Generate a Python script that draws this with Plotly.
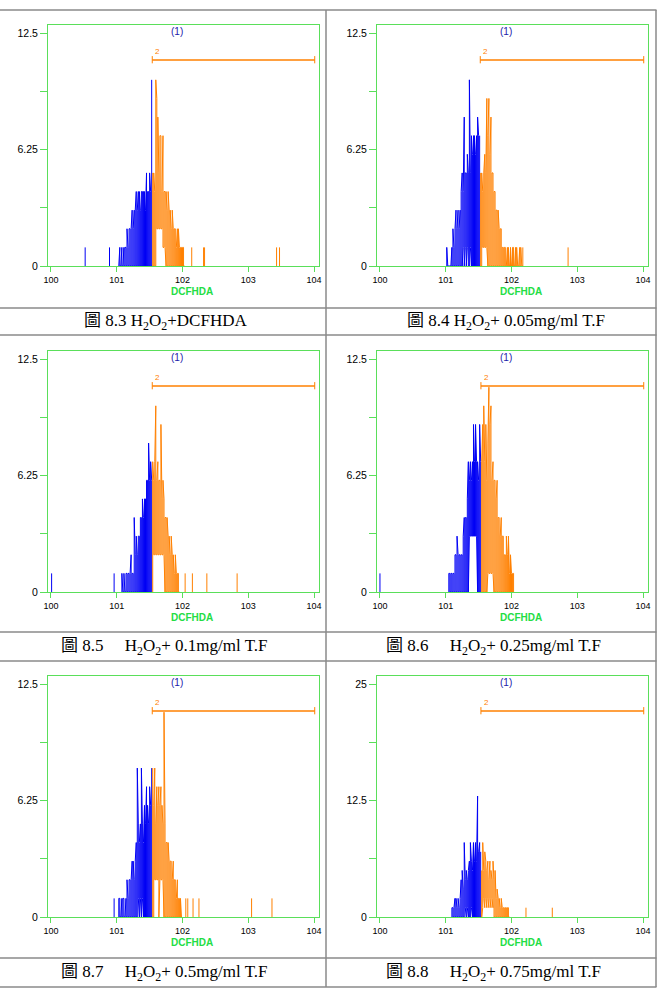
import plotly.graph_objects as go

# ---------------- data (histogram counts per 1/64-decade channel group) ----------------
BIN = 1.0 / 64

# Fig 8.3  H2O2 + DCFHDA
p83_first = 66
p83_hi = [0, 1, 0, 1, 0, 1, 1, 1, 2, 1, 2, 2, 2, 3, 2, 3, 3, 4, 3, 4,
          4, 3, 4, 4, 4, 4, 3, 5, 4, 4, 5, 4, 10,
          5, 5, 4, 10, 9, 8, 5, 7, 7, 4, 7, 4, 4, 4, 3, 4, 3, 3, 2, 3,
          2, 2, 2, 1, 2, 2, 1, 1, 1, 1, 1, 0]
p83_lo = [0, 0, 0, 0, 0, 0, 0, 0, 0, 0, 0, 0, 0, 0, 0, 0, 0, 0, 0, 0,
          0, 0, 0, 0, 0, 0, 0, 0, 0, 0, 0, 0, 0,
          0, 0, 0, 0, 2, 2, 2, 2, 2, 2, 1, 1, 1, 0, 0, 0, 0, 0, 0, 0,
          0, 0, 0, 0, 0, 0, 0, 0, 0, 0, 0, 0]
p83_gate = 1.54
p83_out_x = [0.52, 0.89, 2.14, 2.32, 2.335, 3.43, 3.475]
p83_out_n = [1, 1, 1, 1, 1, 1, 1]

# Fig 8.4  H2O2 + 0.05 mg/ml T.F
p84_first = 65
p84_hi = [1, 0, 0, 0, 0, 1, 2, 1, 2, 3, 2, 3, 2, 3, 4, 5, 4, 8, 5, 5,
          6, 5, 10, 5, 7, 6, 7, 7, 6, 7, 8, 7, 7,
          5, 5, 4, 5, 6, 5, 9, 7, 9, 6, 8, 5, 5, 4, 4, 3, 3, 3, 2, 2,
          2, 1, 1, 1, 1, 0, 1, 1, 0, 1, 0, 1, 1, 0, 1, 1, 0, 0, 1, 1,
          0, 1]
p84_lo = [0, 0, 0, 0, 0, 0, 0, 0, 0, 0, 0, 0, 0, 0, 0, 0, 1, 0, 1, 0,
          1, 0, 0, 1, 0, 0, 0, 0, 0, 0, 0, 0, 0,
          0, 0, 1, 1, 1, 1, 1, 0, 0, 0, 0, 0, 0, 0, 0, 0, 0, 0, 0, 0,
          0, 0, 0, 0, 0, 0, 0, 0, 0, 0, 0, 0, 0, 0, 0, 0, 0, 0, 0, 0,
          0, 0]
p84_gate = 1.525
p84_out_x = [2.86]
p84_out_n = [1]

# Fig 8.5  H2O2 + 0.1 mg/ml T.F
p85_first = 69
p85_hi = [1, 0, 1, 0, 1, 1, 1, 1, 1, 2, 1, 1, 4, 2, 3, 2, 3, 3, 4, 4,
          5, 4, 5, 5, 6, 6, 8, 6, 7, 6,
          7, 6, 7, 10, 6, 7, 6, 6, 9, 5, 6, 5, 4, 4, 4, 3, 3, 2, 3, 2,
          2, 1, 2, 1, 1, 1, 0]
p85_lo = [0, 0, 0, 0, 0, 0, 0, 0, 0, 0, 0, 0, 0, 0, 0, 0, 0, 0, 0, 0,
          0, 0, 0, 0, 0, 0, 0, 0, 0, 0,
          0, 2, 2, 2, 2, 2, 2, 2, 2, 2, 2, 2, 0, 0, 0, 0, 0, 0, 0, 0,
          0, 0, 0, 0, 0, 0, 0]
p85_gate = 1.54
p85_out_x = [0.01, 0.96, 2.04, 2.15, 2.37, 2.83]
p85_out_n = [1, 1, 1, 1, 1, 1]

# Fig 8.6  H2O2 + 0.25 mg/ml T.F
p86_first = 67
p86_hi = [1, 1, 1, 1, 1, 1, 2, 2, 3, 2, 2, 2, 2, 2, 3, 4, 4, 4, 5, 7,
          6, 7, 6, 7, 9, 7, 9, 7, 7, 6, 9, 7,
          7, 9, 10, 7, 9, 6, 8, 11, 9, 10, 6, 7, 6, 6, 5, 6, 4, 4, 3, 4,
          3, 3, 2, 2, 3, 2, 3, 1, 2, 1, 1, 1]
p86_lo = [0, 0, 0, 0, 0, 0, 0, 0, 0, 0, 0, 0, 0, 0, 0, 0, 0, 0, 0, 0,
          3, 3, 3, 3, 3, 3, 3, 3, 0, 0, 0, 0,
          0, 0, 0, 0, 0, 0, 1, 1, 1, 1, 1, 1, 0, 0, 0, 0, 0, 0, 0, 0,
          0, 0, 0, 0, 0, 0, 0, 0, 0, 0, 0, 0]
p86_gate = 1.535
p86_out_x = [0.0]
p86_out_n = [1]

# Fig 8.7  H2O2 + 0.5 mg/ml T.F
p87_first = 66
p87_hi = [1, 1, 0, 1, 1, 1, 0, 1, 2, 1, 2, 2, 2, 3, 3, 2, 3, 4, 8, 5,
          4, 5, 8, 5, 4, 6, 5, 7, 6, 5, 7, 6, 8,
          8, 6, 8, 5, 7, 6, 7, 6, 7, 6, 5, 11, 5, 4, 4, 4, 3, 3, 3, 2,
          3, 2, 2, 1, 2, 1, 1, 1, 0]
p87_lo = [0, 0, 0, 0, 0, 0, 0, 0, 0, 0, 0, 0, 0, 0, 0, 0, 0, 0, 0, 1,
          0, 1, 0, 1, 0, 0, 0, 0, 0, 0, 0, 0, 0,
          0, 0, 2, 2, 2, 2, 0, 2, 2, 2, 2, 0, 0, 0, 0, 0, 0, 0, 0, 0,
          0, 0, 0, 0, 0, 0, 0, 0, 0]
p87_gate = 1.54
p87_out_x = [0.96, 2.05, 2.08, 2.16, 2.25, 3.05, 3.36]
p87_out_n = [1, 1, 1, 1, 1, 1, 1]

# Fig 8.8  H2O2 + 0.75 mg/ml T.F
p88_first = 70
p88_hi = [1, 1, 1, 2, 2, 1, 2, 1, 2, 4, 5, 3, 8, 4, 5, 4, 5, 6, 8, 6,
          5, 8, 6, 8, 6, 13, 7, 8, 7,
          5, 8, 5, 7, 6, 5, 6, 4, 6, 5, 4, 6, 4, 5, 2, 3, 2, 2, 1, 2,
          1, 1, 1, 1, 1, 1, 1, 0]
p88_lo = [0, 0, 0, 0, 0, 0, 0, 0, 0, 0, 0, 0, 0, 1, 0, 1, 0, 0, 0, 1,
          0, 0, 0, 0, 0, 0, 0, 0, 0,
          0, 1, 2, 1, 2, 1, 2, 1, 2, 1, 2, 1, 0, 0, 0, 0, 0, 0, 0, 0,
          0, 0, 0, 0, 0, 0, 0, 0]
p88_gate = 1.535
p88_out_x = [2.22, 2.62]
p88_out_n = [1, 1]

y_tick_labels_small = ["0", "6.25", "12.5"]
y_tick_labels_large = ["0", "12.5", "25"]
y_max_small = 12.5
y_max_large = 25
x_tick_vals = [0, 1, 2, 3, 4]
x_tick_text = ["100", "101", "102", "103", "104"]

gap = "\u00a0\u00a0\u00a0\u00a0 "
h2o2 = "H<sub>2</sub>O<sub>2</sub>"
captions = [
    "圖 8.3 " + h2o2 + "+DCFHDA",
    "圖 8.4 " + h2o2 + "+ 0.05mg/ml T.F",
    "圖 8.5" + gap + h2o2 + "+ 0.1mg/ml T.F",
    "圖 8.6" + gap + h2o2 + "+ 0.25mg/ml T.F",
    "圖 8.7" + gap + h2o2 + "+ 0.5mg/ml T.F",
    "圖 8.8" + gap + h2o2 + "+ 0.75mg/ml T.F",
]

# ---------------- styling / layout ----------------
W, H = 659, 988
BLUE = "#0000F5"
ORANGE = "#FF8000"
GREEN = "#5ADF5A"
GREEN_TXT = "#22DD44"
GRID = "#8A8A8A"

panels = [
    dict(first=p83_first, hi=p83_hi, lo=p83_lo, gate=p83_gate, ox=p83_out_x, on=p83_out_n, ymax=y_max_small, yt=y_tick_labels_small),
    dict(first=p84_first, hi=p84_hi, lo=p84_lo, gate=p84_gate, ox=p84_out_x, on=p84_out_n, ymax=y_max_small, yt=y_tick_labels_small),
    dict(first=p85_first, hi=p85_hi, lo=p85_lo, gate=p85_gate, ox=p85_out_x, on=p85_out_n, ymax=y_max_small, yt=y_tick_labels_small),
    dict(first=p86_first, hi=p86_hi, lo=p86_lo, gate=p86_gate, ox=p86_out_x, on=p86_out_n, ymax=y_max_small, yt=y_tick_labels_small),
    dict(first=p87_first, hi=p87_hi, lo=p87_lo, gate=p87_gate, ox=p87_out_x, on=p87_out_n, ymax=y_max_small, yt=y_tick_labels_small),
    dict(first=p88_first, hi=p88_hi, lo=p88_lo, gate=p88_gate, ox=p88_out_x, on=p88_out_n, ymax=y_max_large, yt=y_tick_labels_large),
]

col_px = [(48, 319), (377, 648)]
row_px = [(25, 266), (351, 592), (676, 917)]
cap_cx = [165, 506, 164, 494, 164, 494]
cap_cy = [321.5, 321.5, 646.5, 646.5, 972.5, 972.5]

fig = go.Figure()
layout = dict(
    width=W, height=H, margin=dict(l=0, r=0, t=0, b=0, autoexpand=False),
    paper_bgcolor="white", plot_bgcolor="white", showlegend=False,
    font=dict(family="Liberation Sans, Arial, sans-serif", color="black"),
)
annotations = []
shapes = []

for i, p in enumerate(panels):
    r, c = divmod(i, 2)
    ax = "" if i == 0 else str(i + 1)
    xref, yref = "x" + ax, "y" + ax
    x0p, x1p = col_px[c]
    y0p, y1p = row_px[r]
    ytop = p["ymax"] * 241.0 / 232.7
    layout["xaxis" + ax] = dict(
        domain=[x0p / W, x1p / W], anchor=yref, range=[-0.045, 4.075], automargin=False,
        tickvals=x_tick_vals, ticktext=x_tick_text, ticks="outside", ticklen=5,
        tickcolor=GREEN, showline=True, linecolor=GREEN, linewidth=1, mirror=True,
        showgrid=False, zeroline=False, tickfont=dict(size=9, color="black"),
        fixedrange=True,
    )
    q = p["ymax"] / 4
    layout["yaxis" + ax] = dict(
        domain=[1 - y1p / H, 1 - y0p / H], anchor=xref, range=[0, ytop], automargin=False,
        tickvals=[0, 2 * q, 4 * q], ticktext=p["yt"], ticks="outside", ticklen=7,
        minor=dict(tickvals=[q, 3 * q], ticks="outside", ticklen=7, tickcolor=GREEN, showgrid=False),
        tickcolor=GREEN, showline=True, linecolor=GREEN, linewidth=1, mirror=True,
        showgrid=False, zeroline=False, tickfont=dict(size=10.5, color="black"),
        fixedrange=True,
    )

    # zig-zag histogram polyline, split at the gate
    for side, color in (("blue", BLUE), ("orange", ORANGE)):
        xs, ys = [], []
        for k, (h, l) in enumerate(zip(p["hi"], p["lo"])):
            b = p["first"] + k
            xv = b * BIN
            is_blue = xv < p["gate"]
            if (side == "blue") != is_blue:
                continue
            if k % 2 == 0:
                xs += [xv, xv]; ys += [l, h]
            else:
                xs += [xv, xv]; ys += [h, l]
        fig.add_trace(go.Scatter(x=xs, y=ys, mode="lines", line=dict(color=color, width=1),
                                 xaxis=xref, yaxis=yref, hoverinfo="skip"))
    # isolated channels
    for side, color in (("blue", BLUE), ("orange", ORANGE)):
        xs, ys = [], []
        for xv, n in zip(p["ox"], p["on"]):
            if (xv < p["gate"]) == (side == "blue"):
                xs += [xv, xv, None]; ys += [0, n, None]
        if xs:
            fig.add_trace(go.Scatter(x=xs, y=ys, mode="lines", line=dict(color=color, width=1),
                                     xaxis=xref, yaxis=yref, hoverinfo="skip"))

    # gate marker
    gy, cap_lo, cap_hi = 0.855, 0.841, 0.871
    shapes.append(dict(type="line", xref=xref, yref=yref + " domain", x0=p["gate"], x1=4.01,
                       y0=gy, y1=gy, line=dict(color=ORANGE, width=1.6)))
    for gx in (p["gate"], 4.01):
        shapes.append(dict(type="line", xref=xref, yref=yref + " domain", x0=gx, x1=gx,
                           y0=cap_lo, y1=cap_hi, line=dict(color=ORANGE, width=1)))
    annotations.append(dict(text="2", xref=xref, yref=yref + " domain", x=p["gate"] + 0.01, y=0.888,
                            xanchor="left", yanchor="middle", showarrow=False,
                            font=dict(size=8, color=ORANGE)))
    annotations.append(dict(text="(1)", xref=xref, yref=yref + " domain", x=1.92, y=0.971,
                            xanchor="center", yanchor="middle", showarrow=False,
                            font=dict(size=10, color="#2222AA")))
    annotations.append(dict(text="<b>DCFHDA</b>", xref=xref, yref=yref + " domain", x=2.145, y=-0.104,
                            xanchor="center", yanchor="middle", showarrow=False,
                            font=dict(size=10, color=GREEN_TXT)))
    annotations.append(dict(text=captions[i], xref="paper", yref="paper",
                            x=cap_cx[i] / W, y=1 - cap_cy[i] / H, xanchor="center", yanchor="middle",
                            showarrow=False,
                            font=dict(family="Liberation Serif, Times New Roman, Noto Sans CJK TC, serif",
                                      size=17, color="black")))

# table rules
for yy in (10, 308, 335, 632, 661, 958, 987):
    shapes.append(dict(type="line", xref="paper", yref="paper", x0=0, x1=656.5 / W,
                       y0=1 - yy / H, y1=1 - yy / H, line=dict(color=GRID, width=1.5)))
for xx in (326, 656):
    shapes.append(dict(type="line", xref="paper", yref="paper", x0=xx / W, x1=xx / W,
                       y0=1 - 10 / H, y1=1 - 987 / H, line=dict(color=GRID, width=1.5)))

layout["annotations"] = annotations
layout["shapes"] = shapes
fig.update_layout(**layout)
fig.write_html("out.html")
